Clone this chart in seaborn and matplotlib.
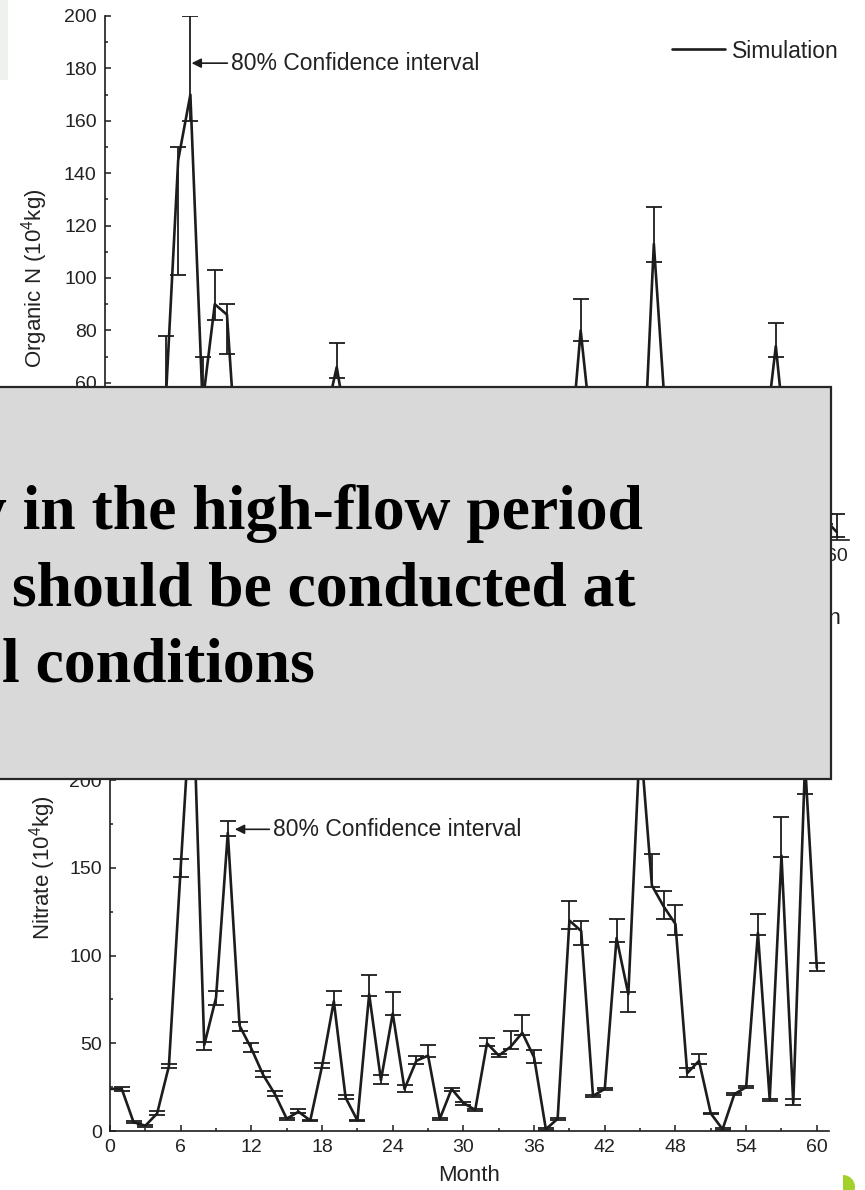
import numpy as np
import pandas as pd
import matplotlib
matplotlib.use("Agg")
import matplotlib.pyplot as plt
import seaborn as sns
from matplotlib.ticker import MultipleLocator
from matplotlib.patches import Rectangle, Wedge

# ---------------- data ----------------
months = list(range(61))

organic_n = [5, 4, 3, 3, 12, 55, 145, 170, 52, 90,
             86, 17, 20, 12, 8, 4, 5, 4, 45, 66,
             38, 4, 40, 12, 35, 10, 15, 18, 3, 10,
             6, 5, 25, 18, 22, 28, 15, 1, 25, 80,
             36, 8, 10, 45, 13, 113, 44, 40, 35, 10,
             12, 3, 1, 6, 34, 74, 28, 45, 5, 8, 3]
organic_lo = [4, 3, 2, 2, 10, 45, 101, 160, 45, 84,
              71, 14, 17, 10, 6, 3, 4, 3, 40, 62,
              33, 3, 35, 10, 30, 8, 13, 15, 2, 8,
              5, 4, 21, 15, 19, 24, 13, 0.5, 21, 76,
              31, 7, 8, 39, 11, 106, 38, 34, 30, 8,
              10, 2, 0.5, 5, 29, 70, 24, 39, 4, 6, 1]
organic_hi = [6, 5, 4, 4, 15, 78, 150, 200, 70, 103,
              90, 21, 24, 15, 10, 5, 6, 5, 52, 75,
              45, 5, 50, 15, 42, 12, 18, 22, 4, 12,
              8, 6, 30, 21, 27, 34, 18, 1.5, 30, 92,
              43, 10, 12, 54, 16, 127, 52, 47, 42, 12,
              15, 4, 1.5, 7, 40, 83, 33, 54, 6, 10, 10]

nitrate = [24, 24, 5, 3, 10, 37, 150, 260, 49, 76,
           170, 60, 47, 32, 21, 7, 11, 6, 37, 74,
           19, 6, 78, 29, 67, 24, 40, 43, 7, 24,
           16, 12, 50, 43, 48, 56, 42, 1, 7, 120,
           114, 20, 24, 110, 78, 225, 140, 128, 118, 33,
           40, 10, 1, 21, 25, 113, 18, 157, 16, 210, 93]
nitrate_lo = [np.nan, 23, 4.5, 2.5, 9, 36, 145, 240, 46, 72,
              168, 57, 45, 31, 20, 6.5, 10, 5.5, 36, 72,
              18, 5.5, 77, 27, 66, 22, 38, 42, 6.5, 23,
              15, 11.5, 48.5, 42, 47, 55, 39, 0.5, 6.5, 115,
              106, 19.5, 23.5, 108, 68, 210, 139, 121, 112, 31,
              38, 9.5, 0.5, 20.5, 24.5, 112, 17, 156, 15, 192, 91]
nitrate_hi = [np.nan, 25, 5.5, 3.5, 11.6, 38, 155, 280, 51, 80,
              177, 62, 50, 34, 23, 7.5, 12.5, 6.5, 39, 80,
              20.5, 6.5, 89, 32, 79, 26, 43, 49, 7.5, 24.5,
              16.5, 12.5, 53, 44, 57, 66, 46, 1.5, 7.5, 131,
              120, 20.5, 24.5, 121, 79, 245, 158, 137, 129, 36,
              44, 10.5, 1.5, 21.5, 25.5, 124, 18.5, 179, 18, 230, 96]

x_ticks = [0, 6, 12, 18, 24, 30, 36, 42, 48, 54, 60]
organic_yticks = [0, 20, 40, 60, 80, 100, 120, 140, 160, 180, 200]
nitrate_yticks = [0, 50, 100, 150, 200, 250, 300]

overlay_lines = ["y in the high-flow period",
                 "should be conducted at",
                 "l conditions"]

# ---------------- style ----------------
sns.set_theme(style="white")
plt.rcParams["font.family"] = ["Liberation Sans", "DejaVu Sans"]
plt.rcParams["mathtext.default"] = "regular"

W, H = 865, 1190
INK = "#1c1c1c"
fig = plt.figure(figsize=(W / 100, H / 100), dpi=100)
fig.patch.set_facecolor("white")

ax1 = fig.add_axes([105 / W, 1 - 540 / H, 744 / W, 524 / H])
ax2 = fig.add_axes([110 / W, 1 - 1131 / H, 718.6 / W, (1131 - 604.8) / H])

df1 = pd.DataFrame({"month": months, "value": organic_n,
                    "lo": organic_lo, "hi": organic_hi})
df2 = pd.DataFrame({"month": months, "value": nitrate,
                    "lo": nitrate_lo, "hi": nitrate_hi})

for ax, df, yt, ylim, ystep in ((ax1, df1, organic_yticks, (0, 200), 10),
                                (ax2, df2, nitrate_yticks, (0, 300), 25)):
    mid = (df["lo"] + df["hi"]) / 2
    half = (df["hi"] - df["lo"]) / 2
    ax.errorbar(df["month"], mid, yerr=half, fmt="none", ecolor=INK,
                elinewidth=1.3, capsize=6, capthick=1.3, zorder=2)
    sns.lineplot(data=df, x="month", y="value", ax=ax, color=INK,
                 linewidth=1.9, errorbar=None, zorder=3,
                 label="Simulation" if ax is ax1 else None, legend=False)
    ax.set_xlim(0, 61)
    ax.set_ylim(*ylim)
    ax.set_xticks(x_ticks)
    ax.set_yticks(yt)
    ax.xaxis.set_minor_locator(MultipleLocator(3))
    ax.yaxis.set_minor_locator(MultipleLocator(ystep))
    for s in ("top", "right"):
        ax.spines[s].set_visible(False)
    for s in ("left", "bottom"):
        ax.spines[s].set_color(INK)
        ax.spines[s].set_linewidth(1.2)
    ax.tick_params(which="both", direction="in", color=INK, width=1.1,
                   left=True, bottom=True)
    ax.tick_params(which="major", length=4.5, labelsize=14, pad=6,
                   labelcolor="#222222")
    ax.tick_params(which="minor", length=2.5)
    ax.set_facecolor("white")

ax1.set_ylabel("Organic N (10$^4$kg)", fontsize=16, labelpad=10, color="#222222")
ax2.set_ylabel("Nitrate (10$^4$kg)", fontsize=16, labelpad=8, color="#222222")
ax2.set_xlabel("Month", fontsize=16, labelpad=6, color="#222222")
ax1.set_xlabel("Month", fontsize=16, color="#222222", ha="right", va="center")
ax1.xaxis.set_label_coords((841 - 105) / 744, -(619 - 540) / 524)

arrow = dict(arrowstyle="-|>", color=INK, lw=1.2, shrinkA=0, shrinkB=0,
             mutation_scale=14)
ax1.annotate("80% Confidence interval", xy=(7.1, 182), xytext=(10.3, 182),
             ha="left", va="center", fontsize=16.5, color="#222222",
             arrowprops=arrow)
ax2.annotate("80% Confidence interval", xy=(10.6, 172), xytext=(13.8, 172),
             ha="left", va="center", fontsize=16.5, color="#222222",
             arrowprops=arrow)

ax1.legend(loc="center right", bbox_to_anchor=(839 / W, 1 - 51 / H),
           bbox_transform=fig.transFigure, frameon=False, fontsize=16.5,
           handlelength=2.35, handletextpad=0.3, borderpad=0,
           borderaxespad=0, labelcolor="#222222")

# ---------------- overlay box & decorations ----------------
fig.add_artist(Rectangle((0, 1 - 80 / H), 8 / W, 80 / H,
                         transform=fig.transFigure, facecolor="#eef1ee",
                         edgecolor="none", zorder=1))
fig.add_artist(Rectangle((-6 / W, 1 - 779 / H), 837 / W, 392 / H,
                         transform=fig.transFigure, facecolor="#d9d9d9",
                         edgecolor="#262626", linewidth=1.6, zorder=10))
for txt, xr, yb in zip(overlay_lines, (643, 635, 315), (529, 606, 682)):
    fig.text(xr / W, 1 - yb / H, txt, ha="right", va="baseline",
             fontsize=45.8, fontweight="bold", family=["Liberation Serif", "DejaVu Serif"],
             color="black", zorder=11)

fig.add_artist(Wedge((8.43, 0.03), 0.12, -90, 90,
                     transform=fig.dpi_scale_trans, facecolor="#a3d12c",
                     edgecolor="none", zorder=12))

fig.savefig("out.png", dpi=100, facecolor="white")
